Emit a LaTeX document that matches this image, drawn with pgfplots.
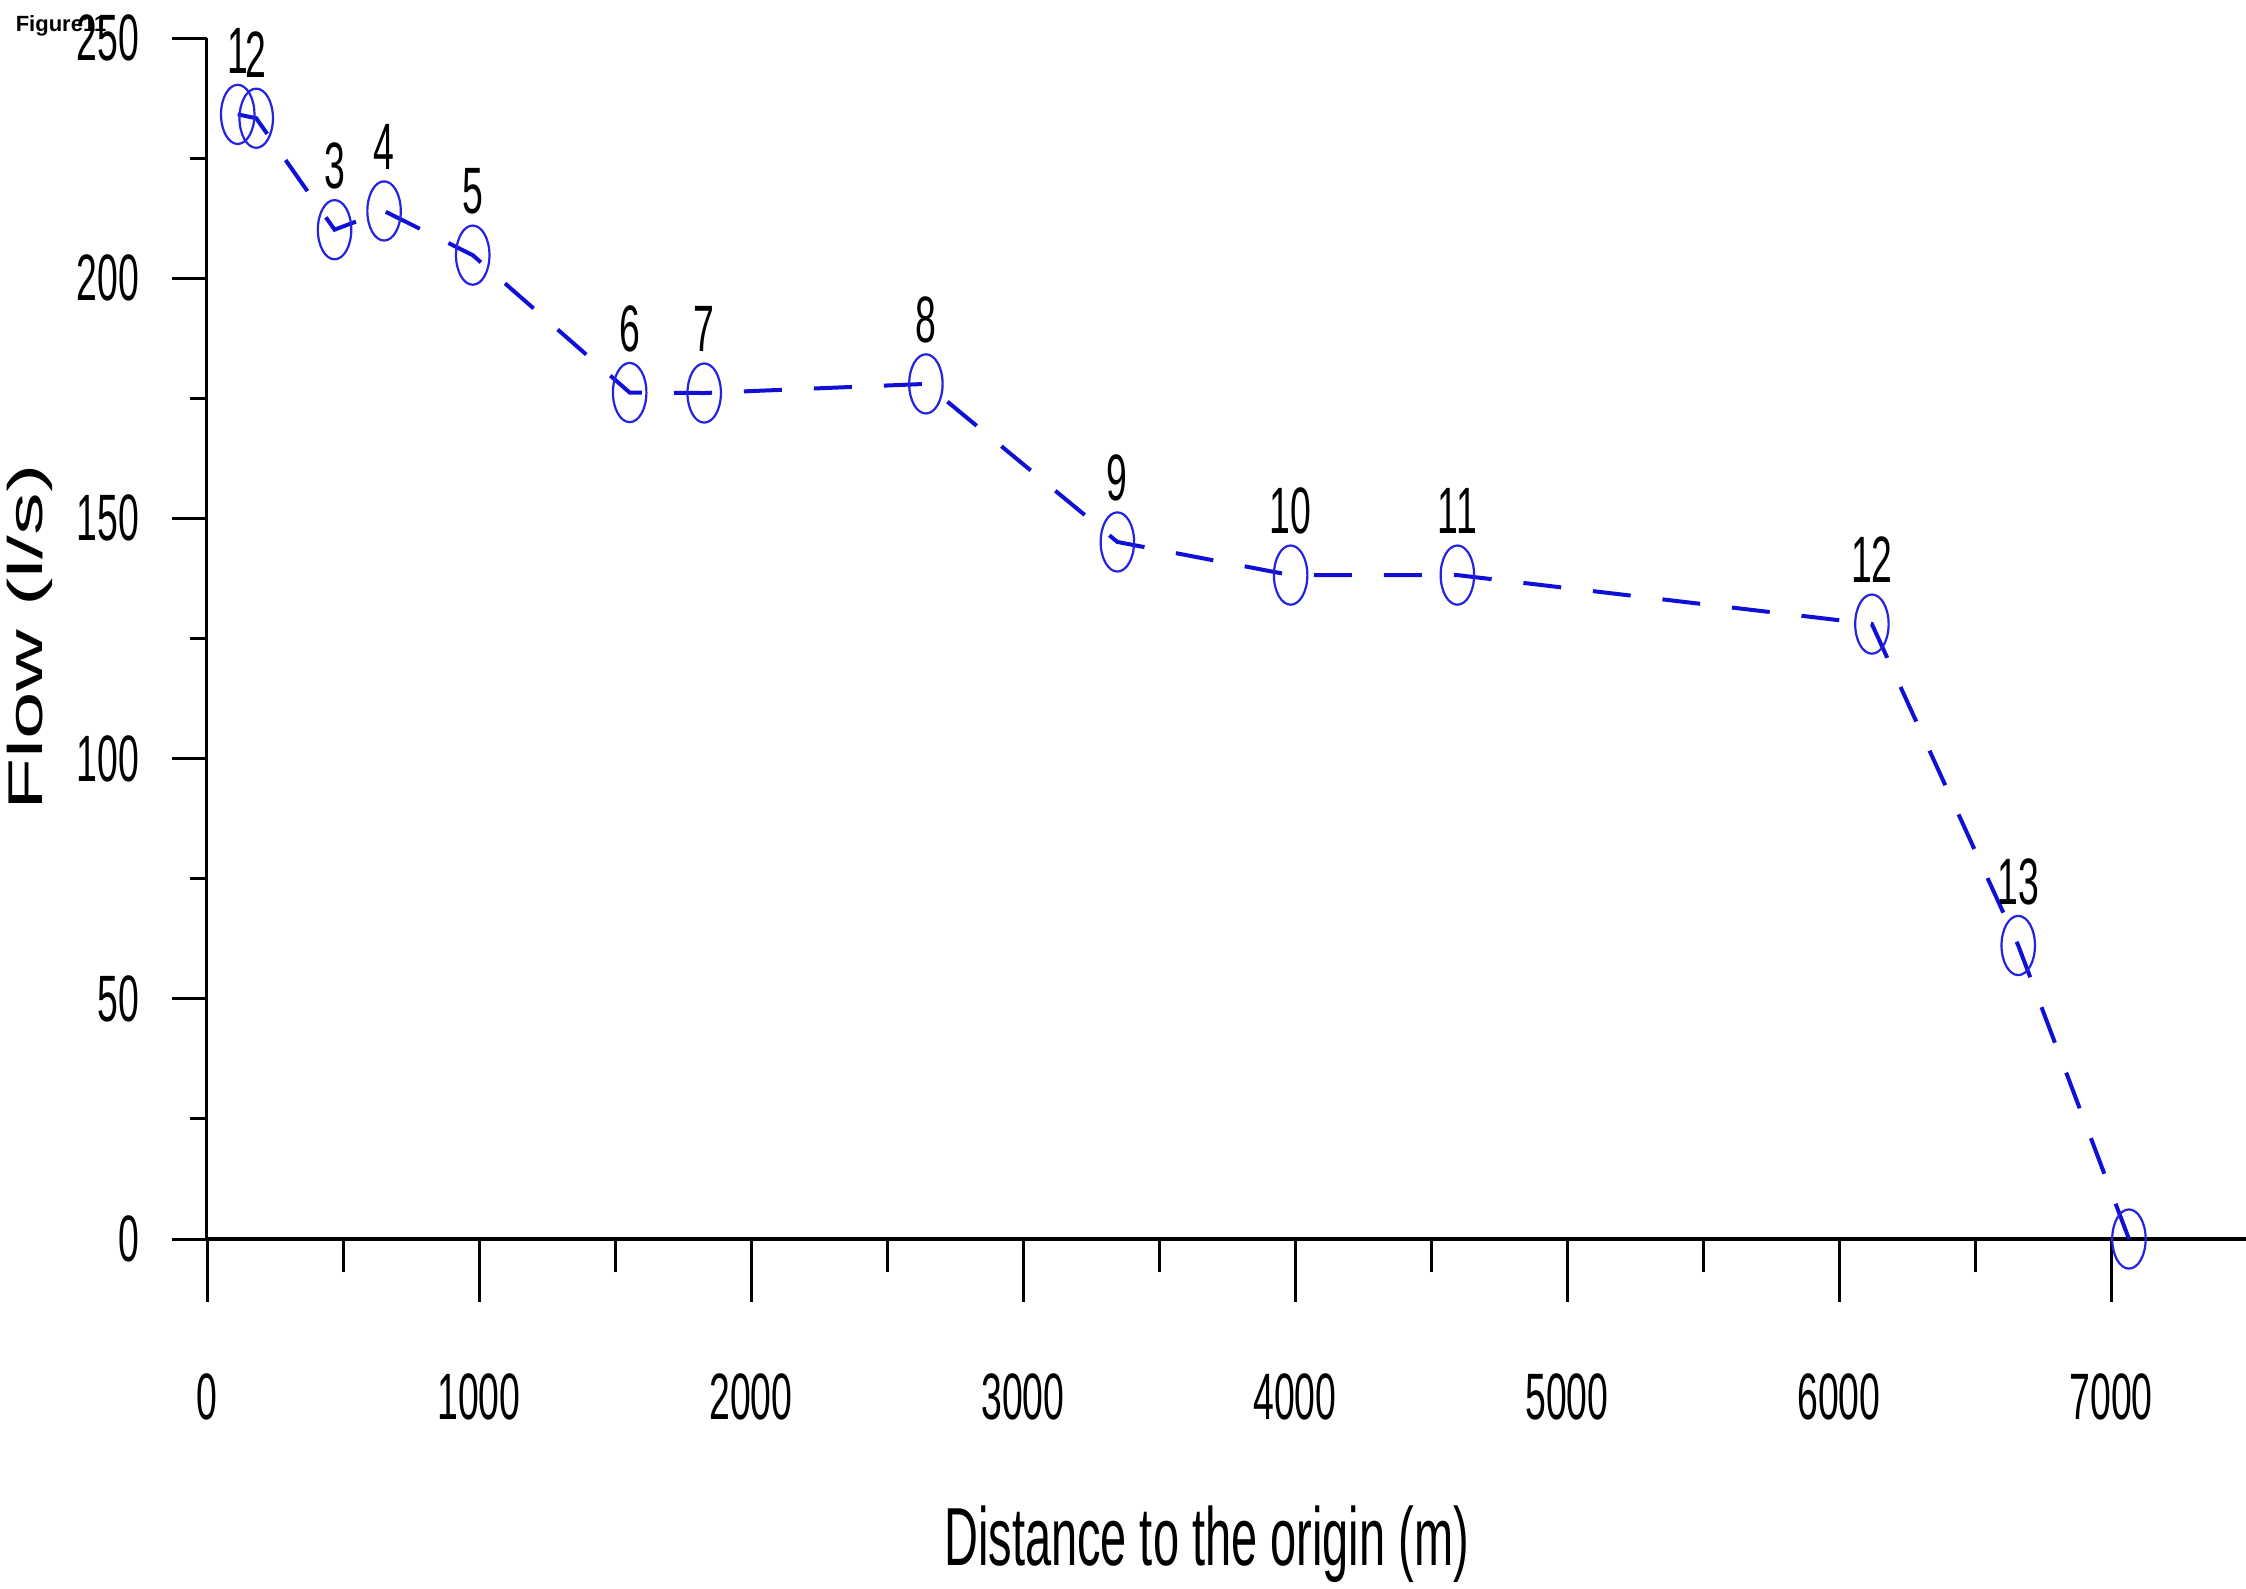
\documentclass[border=0pt]{standalone}
\usepackage{pgfplots}
\pgfplotsset{compat=1.18}
\usepackage{pgfplotstable}
\usepackage{fontspec}
\setmainfont{Liberation Sans}[FakeStretch=0.57]
\newfontfamily\ylabfont{Liberation Sans}[FakeStretch=1.75]
\newfontfamily\figfont{Liberation Sans}

\definecolor{lineblue}{RGB}{15,15,215}
\definecolor{markblue}{RGB}{35,35,225}

\pgfplotstableread{
x y lab
113 234.1 1
181 233.3 2
469 210.1 3
651 214.0 4
977 204.8 5
1554 176.2 6
1828 176.1 7
2643 178.0 8
3347 145.1 9
3984 138.2 10
4597 138.2 11
6121 128.0 12
6659 61.1 13
7066 0 {}
}\flowdata

\pgfplotsset{
  common/.style={
    at={(0,0)}, anchor=south west,
    scale only axis, width=510pt, height=300.25pt,
    xmin=0, xmax=7500, ymin=0, ymax=250,
    clip=false,
    tick align=outside,
    scaled x ticks=false, scaled y ticks=false,
    /pgf/number format/assume math mode=true,
    /pgf/number format/1000 sep={},
    ticklabel style={font=\fontsize{16.4}{19.7}\selectfont},
  }
}

\begin{document}
\begin{tikzpicture}
\path[use as bounding box] (-51.75pt,-87.25pt) rectangle (509.75pt,309.75pt);
% x axis
\begin{axis}[
  common,
  axis x line*=bottom, axis y line=none,
  ytick=\empty,
  x axis line style={line width=1pt},
  xtick={0,1000,...,7000},
  minor xtick={500,1500,...,7500},
  major tick length=15.75pt, minor tick length=8.25pt,
  xtick style={line width=0.75pt, black},
  xticklabel style={yshift=-14.3pt},
  xlabel={Distance to the origin (m)},
  xlabel style={font=\fontsize{20.6}{24.7}\selectfont, at={(axis description cs:0.49,-0.254)}, anchor=center},
]
\end{axis}
% y axis and data
\begin{axis}[
  common,
  axis y line*=left, axis x line=none,
  xtick=\empty,
  y axis line style={line width=0.75pt},
  ytick={0,50,...,250},
  minor ytick={25,75,...,225},
  major tick length=8.75pt, minor tick length=4.25pt,
  ytick style={line width=0.75pt, black},
  yticklabel style={xshift=-4.7pt},
  ylabel={Flow (l/s)},
  ylabel style={font=\ylabfont\fontsize{12.2}{14.6}\selectfont, at={(axis description cs:-0.0868,0.501)}, anchor=center},
]
\addplot[color=lineblue, line width=1pt, dash pattern=on 9.5pt off 8pt,
  mark=o, mark size=7.4pt,
  mark options={solid, color=markblue, line width=0.55pt, xscale=0.565},
  point meta=explicit symbolic,
  nodes near coords,
  every node near coord/.append style={font=\fontsize{16.4}{19.7}\selectfont, black, anchor=base, yshift=10.3pt, inner sep=0pt},
] table[x=x, y=y, meta=lab] {\flowdata};
\end{axis}
\node[anchor=base west, inner sep=0pt, font=\figfont\bfseries\fontsize{5.5}{6.6}\selectfont] at (-48pt,301.75pt) {Figure11};
\end{tikzpicture}
\end{document}
